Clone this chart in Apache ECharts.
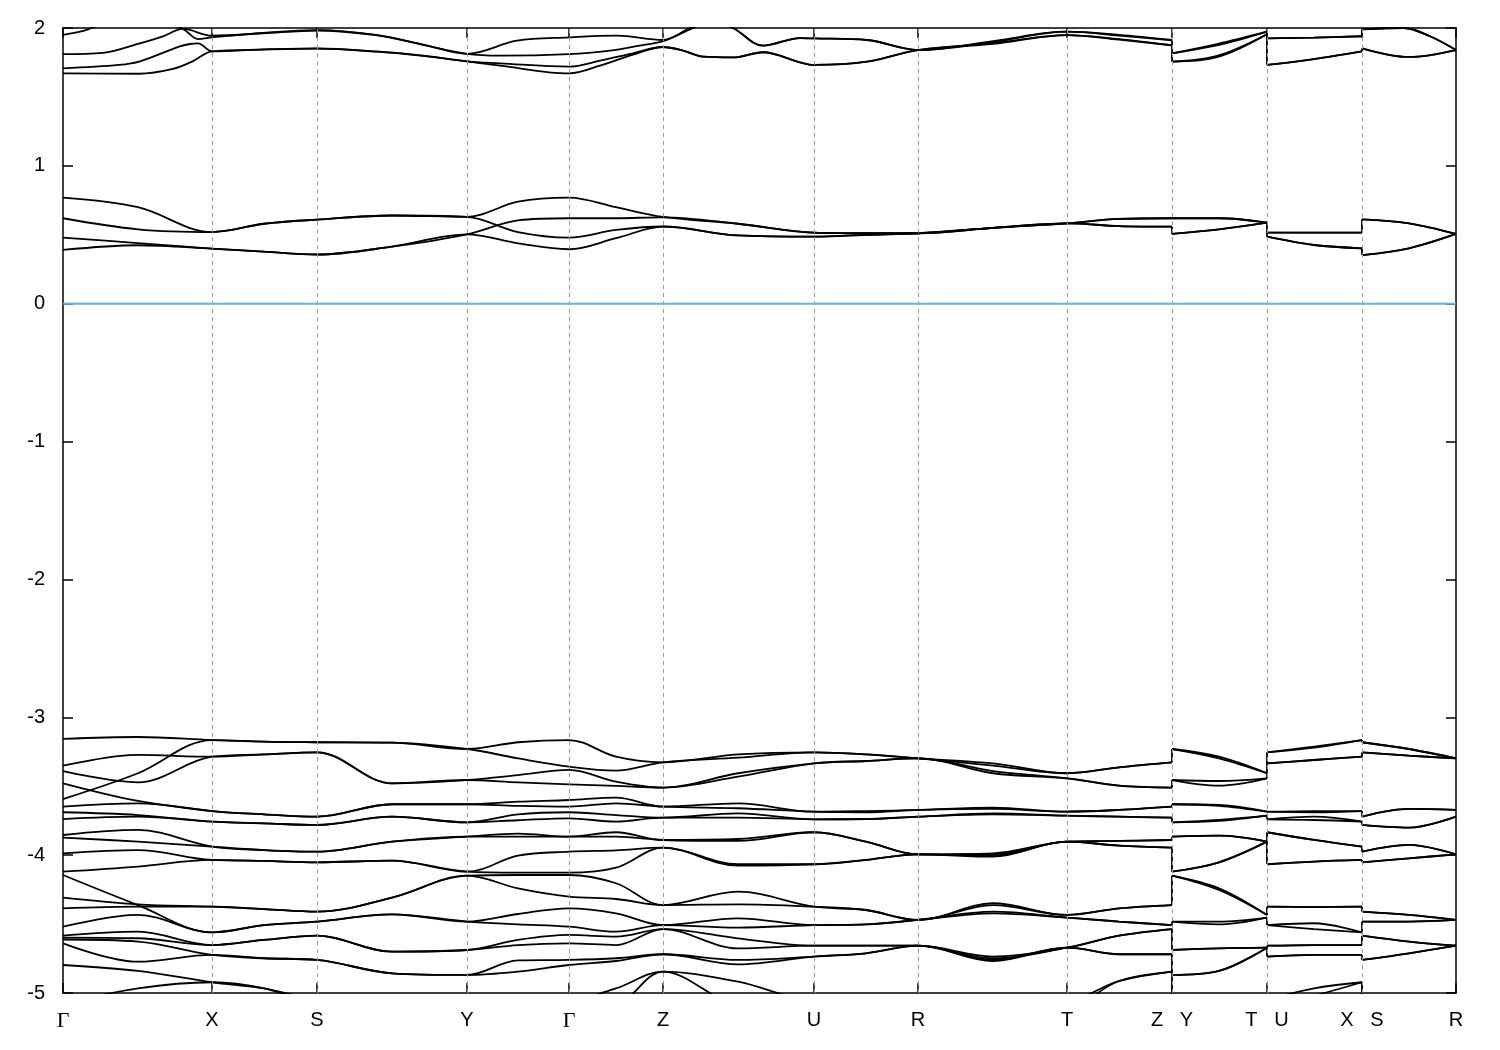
<!DOCTYPE html>
<html><head><meta charset="utf-8">
<script src="https://cdn.jsdelivr.net/npm/echarts@6/dist/echarts.min.js"></script>
<style>html,body{margin:0;padding:0;background:#fff}#chart{width:1500px;height:1050px}</style>
</head><body><div id="chart"></div>
<script>
// k-path positions of the high-symmetry points (arb. path units)
const kTicks = [0, 149, 254, 404, 506, 600, 751, 855, 1004, 1109, 1204, 1299, 1393];
const kLabels = ['Γ','X','S','Y','Γ','Z','U','R','T','Z   Y','T   U','X   S','R'];
// sampling grid along the path (repeated k = discontinuity)
const kx = [0,75,149,201,254,329,404,455,506,553,600,675,751,803,855,930,1004,1056,1109,1109,1156,1204,1204,1251,1299,1299,1346,1393];

// conduction bands near 0.5 eV (on kx grid)
const c4 = [0.77,0.70,0.52,0.58,0.61,0.64,0.63,0.74,0.77,0.70,0.63,0.58,0.515,0.511,0.511,0.55,0.583,0.615,0.62,0.62,0.62,0.588,0.515,0.515,0.515,0.612,0.583,0.506];
const c3 = [0.62,0.54,0.52,0.58,0.61,0.64,0.63,0.52,0.48,0.535,0.56,0.495,0.486,0.50,0.511,0.55,0.583,0.563,0.559,0.506,0.539,0.588,0.486,0.426,0.402,0.353,0.402,0.506];
const c2 = [0.48,0.44,0.40,0.378,0.357,0.414,0.503,0.605,0.62,0.62,0.627,0.58,0.515,0.511,0.511,0.55,0.583,0.615,0.62,0.62,0.62,0.588,0.515,0.515,0.515,0.612,0.583,0.506];
const c1 = [0.39,0.424,0.40,0.378,0.357,0.414,0.503,0.438,0.395,0.475,0.559,0.495,0.486,0.50,0.511,0.55,0.583,0.563,0.559,0.506,0.539,0.588,0.486,0.426,0.402,0.353,0.402,0.506];

// conduction bands near 1.8 eV ([k, E] pairs)
const uA = [[0,1.95],[17,1.973],[29,2.0],[60,2.07],[95,2.05],[120,1.993],[135,1.92],[149,1.932],[200,1.965],[254,1.985],[313,1.95],[360,1.88],[404,1.813],[454,1.908],[506,1.932],[554,1.944],[600,1.913],[627,2.0],[648,2.05],[670,2.0],[700,1.872],[737,1.927],[751,1.925],[804,1.913],[855,1.84],[930,1.905],[1004,1.973],[1056,1.95],[1109,1.913],[1109,1.816],[1155,1.885],[1204,1.973],[1204,1.925],[1251,1.93],[1299,1.94],[1299,1.99],[1341,2.0],[1367,1.94],[1393,1.84]];
const uB = [[0,1.81],[40,1.82],[77,1.889],[100,1.94],[120,1.993],[149,1.944],[200,1.962],[254,1.982],[313,1.948],[360,1.878],[404,1.813],[437,1.80],[506,1.811],[547,1.836],[575,1.87],[600,1.905],[627,1.99],[648,2.05],[670,2.0],[700,1.872],[737,1.927],[751,1.925],[804,1.913],[855,1.84],[930,1.898],[1004,1.973],[1056,1.945],[1109,1.91],[1109,1.816],[1155,1.875],[1204,1.973],[1204,1.925],[1251,1.93],[1299,1.94],[1299,1.99],[1341,2.0],[1367,1.94],[1393,1.84]];
const uC = [[0,1.707],[56,1.732],[77,1.758],[116,1.865],[127,1.884],[135,1.889],[149,1.831],[200,1.845],[254,1.852],[313,1.83],[360,1.80],[404,1.758],[437,1.744],[506,1.72],[537,1.763],[570,1.816],[600,1.862],[620,1.836],[640,1.792],[670,1.787],[700,1.824],[737,1.751],[751,1.732],[804,1.756],[855,1.84],[930,1.89],[1004,1.949],[1056,1.92],[1109,1.875],[1109,1.756],[1155,1.80],[1204,1.955],[1204,1.732],[1251,1.775],[1299,1.831],[1299,1.853],[1346,1.79],[1393,1.84]];
const uD = [[0,1.671],[76,1.668],[110,1.703],[130,1.76],[149,1.831],[200,1.843],[254,1.85],[313,1.828],[360,1.798],[404,1.758],[437,1.727],[506,1.671],[537,1.727],[570,1.807],[600,1.862],[620,1.836],[640,1.792],[670,1.787],[700,1.824],[737,1.751],[751,1.732],[804,1.756],[855,1.84],[930,1.885],[1004,1.949],[1056,1.915],[1109,1.875],[1109,1.756],[1155,1.79],[1204,1.955],[1204,1.732],[1251,1.775],[1299,1.831],[1299,1.853],[1346,1.79],[1393,1.84]];

// valence bands (on kx grid)
const v00 = [-3.157,-3.143,-3.165,-3.177,-3.181,-3.184,-3.230,-3.181,-3.165,-3.286,-3.327,-3.269,-3.254,-3.269,-3.298,-3.334,-3.406,-3.363,-3.327,-3.230,-3.286,-3.406,-3.254,-3.213,-3.165,-3.181,-3.230,-3.298];
const v01 = [-3.593,-3.406,-3.165,-3.177,-3.181,-3.184,-3.230,-3.298,-3.358,-3.387,-3.327,-3.293,-3.254,-3.269,-3.298,-3.351,-3.406,-3.363,-3.327,-3.230,-3.298,-3.406,-3.254,-3.220,-3.165,-3.181,-3.230,-3.298];
const v02 = [-3.351,-3.273,-3.286,-3.269,-3.254,-3.479,-3.455,-3.419,-3.382,-3.467,-3.510,-3.406,-3.334,-3.317,-3.298,-3.390,-3.443,-3.496,-3.510,-3.455,-3.462,-3.443,-3.334,-3.310,-3.286,-3.254,-3.278,-3.298];
const v03 = [-3.390,-3.472,-3.286,-3.269,-3.254,-3.479,-3.455,-3.472,-3.486,-3.498,-3.510,-3.431,-3.334,-3.317,-3.298,-3.406,-3.443,-3.496,-3.510,-3.455,-3.496,-3.443,-3.334,-3.310,-3.286,-3.254,-3.278,-3.298];
const v04 = [-3.479,-3.607,-3.680,-3.704,-3.721,-3.631,-3.631,-3.612,-3.600,-3.583,-3.648,-3.624,-3.685,-3.680,-3.672,-3.655,-3.685,-3.672,-3.648,-3.631,-3.636,-3.685,-3.685,-3.680,-3.680,-3.721,-3.665,-3.672];
const v05 = [-3.648,-3.624,-3.680,-3.704,-3.721,-3.631,-3.631,-3.643,-3.648,-3.624,-3.648,-3.660,-3.685,-3.689,-3.672,-3.665,-3.685,-3.672,-3.648,-3.631,-3.643,-3.685,-3.685,-3.689,-3.680,-3.721,-3.665,-3.672];
const v06 = [-3.689,-3.709,-3.757,-3.769,-3.781,-3.721,-3.762,-3.704,-3.689,-3.709,-3.728,-3.697,-3.740,-3.738,-3.721,-3.697,-3.714,-3.721,-3.728,-3.762,-3.745,-3.714,-3.740,-3.721,-3.757,-3.781,-3.801,-3.721];
const v07 = [-3.738,-3.721,-3.757,-3.769,-3.781,-3.721,-3.762,-3.747,-3.733,-3.757,-3.728,-3.728,-3.740,-3.738,-3.721,-3.704,-3.714,-3.721,-3.728,-3.762,-3.752,-3.714,-3.740,-3.745,-3.757,-3.781,-3.801,-3.721];
const v08 = [-3.854,-3.817,-3.938,-3.963,-3.975,-3.902,-3.866,-3.844,-3.866,-3.834,-3.890,-3.883,-3.834,-3.902,-3.994,-3.987,-3.902,-3.897,-3.890,-3.866,-3.859,-3.902,-3.834,-3.890,-3.938,-3.975,-3.926,-3.994];
const v09 = [-3.873,-3.902,-3.938,-3.963,-3.975,-3.902,-3.866,-3.866,-3.866,-3.866,-3.890,-3.897,-3.834,-3.902,-3.994,-3.994,-3.902,-3.897,-3.890,-3.866,-3.859,-3.902,-3.834,-3.890,-3.938,-3.975,-3.926,-3.994];
const v10 = [-3.987,-3.963,-4.035,-4.042,-4.052,-4.040,-4.120,-4.004,-3.975,-3.965,-3.946,-4.066,-4.066,-4.035,-3.994,-4.004,-3.902,-3.931,-3.946,-4.120,-4.052,-3.902,-4.066,-4.047,-4.035,-4.052,-4.023,-3.994];
const v11 = [-4.120,-4.083,-4.035,-4.042,-4.052,-4.040,-4.120,-4.127,-4.127,-4.091,-3.946,-4.076,-4.066,-4.035,-3.994,-4.011,-3.902,-3.931,-3.946,-4.120,-4.052,-3.902,-4.066,-4.047,-4.035,-4.052,-4.023,-3.994];
const v12 = [-4.308,-4.357,-4.374,-4.391,-4.410,-4.308,-4.149,-4.144,-4.144,-4.204,-4.362,-4.265,-4.374,-4.398,-4.470,-4.349,-4.434,-4.386,-4.362,-4.149,-4.241,-4.434,-4.374,-4.376,-4.374,-4.410,-4.434,-4.470];
const v13 = [-4.386,-4.374,-4.374,-4.391,-4.410,-4.308,-4.149,-4.241,-4.301,-4.318,-4.362,-4.357,-4.374,-4.398,-4.470,-4.362,-4.434,-4.386,-4.362,-4.149,-4.253,-4.434,-4.374,-4.376,-4.374,-4.410,-4.434,-4.470];
const v14 = [-4.144,-4.362,-4.560,-4.507,-4.482,-4.429,-4.482,-4.427,-4.386,-4.422,-4.507,-4.458,-4.507,-4.502,-4.470,-4.410,-4.453,-4.482,-4.507,-4.482,-4.482,-4.453,-4.507,-4.494,-4.560,-4.482,-4.482,-4.470];
const v15 = [-4.519,-4.434,-4.560,-4.507,-4.482,-4.429,-4.482,-4.502,-4.519,-4.555,-4.507,-4.526,-4.507,-4.502,-4.470,-4.422,-4.453,-4.482,-4.507,-4.482,-4.502,-4.453,-4.507,-4.536,-4.560,-4.482,-4.482,-4.470];
const v16 = [-4.584,-4.555,-4.652,-4.615,-4.584,-4.700,-4.688,-4.615,-4.579,-4.591,-4.536,-4.603,-4.657,-4.657,-4.657,-4.736,-4.671,-4.584,-4.536,-4.688,-4.676,-4.671,-4.657,-4.652,-4.652,-4.584,-4.627,-4.657];
const v17 = [-4.598,-4.603,-4.652,-4.615,-4.584,-4.700,-4.688,-4.652,-4.640,-4.652,-4.536,-4.676,-4.657,-4.657,-4.657,-4.748,-4.671,-4.584,-4.536,-4.688,-4.676,-4.671,-4.657,-4.652,-4.652,-4.584,-4.627,-4.657];
const v18 = [-4.612,-4.627,-4.724,-4.748,-4.760,-4.857,-4.869,-4.763,-4.760,-4.748,-4.719,-4.760,-4.736,-4.712,-4.657,-4.760,-4.671,-4.719,-4.719,-4.869,-4.840,-4.671,-4.736,-4.724,-4.724,-4.760,-4.712,-4.657];
const v19 = [-4.640,-4.773,-4.724,-4.748,-4.760,-4.857,-4.869,-4.845,-4.797,-4.768,-4.719,-4.792,-4.736,-4.712,-4.657,-4.768,-4.671,-4.719,-4.719,-4.869,-4.840,-4.671,-4.736,-4.724,-4.724,-4.760,-4.712,-4.657];
const v20 = [-4.797,-4.840,-4.922,-4.966,-5.05,-5.10,-5.10,-5.05,-5.05,-4.966,-4.845,-4.918,-5.05,-5.05,-5.05,-5.05,-5.05,-4.913,-4.845,-5.10,-5.05,-5.05,-5.05,-4.966,-4.922,-5.05,-5.05,-5.05];
const v21 = [-5.08,-4.966,-4.922,-4.966,-5.08,-5.15,-5.15,-5.12,-5.10,-5.08,-4.845,-5.08,-5.10,-5.10,-5.10,-5.10,-5.10,-4.913,-4.845,-5.15,-5.10,-5.10,-5.10,-5.02,-4.922,-5.08,-5.10,-5.10];

const gridBands = [c1,c2,c3,c4,v00,v01,v02,v03,v04,v05,v06,v07,v08,v09,v10,v11,v12,v13,v14,v15,v16,v17,v18,v19,v20,v21];
const pairBands = [uA,uB,uC,uD];

const jumps = [];
function toSeriesData(points) {
  const out = [];
  for (let i = 0; i < points.length; i++) {
    const p = points[i];
    if (i > 0 && points[i-1][0] === p[0]) {
      out.push([p[0], null]);
      jumps.push([p[0], points[i-1][1]], [p[0], p[1]], [p[0], null]);
    }
    out.push([p[0], p[1]]);
  }
  return out;
}
const bandStyle = {color:'#000', width:1.8};
const series = [];
// zero line + high-symmetry grid lines
series.push({
  type:'line', data:[[kTicks[0],0],[kTicks[kTicks.length-1],0]], symbol:'none', silent:true,
  lineStyle:{color:'#56b4e9', width:2}, z:1,
  markLine:{silent:true, symbol:['none','none'], label:{show:false},
    lineStyle:{color:'#9a9a9a', type:[4,4], width:1},
    data:kTicks.slice(1,-1).map(v=>({xAxis:v}))}
});
gridBands.forEach(b => {
  series.push({type:'line', data:toSeriesData(kx.map((k,i)=>[k,b[i]])), smooth:0.35, symbol:'none', silent:true, clip:true, lineStyle:bandStyle, z:3});
});
pairBands.forEach(b => {
  series.push({type:'line', data:toSeriesData(b), smooth:0.35, symbol:'none', silent:true, clip:true, lineStyle:bandStyle, z:3});
});
series.push({type:'line', data:jumps, smooth:false, symbol:'none', silent:true, clip:true, lineStyle:bandStyle, z:3});

const axisLineStyle = {color:'#000', width:1.5};
const labelFont = {fontFamily:'Liberation Sans', fontSize:20, color:'#000'};
const option = {
  animation:false,
  backgroundColor:'#fff',
  grid:{left:63, right:44, top:28, bottom:57, containLabel:false},
  xAxis:[
    {type:'value', min:kTicks[0], max:kTicks[kTicks.length-1], position:'bottom',
     axisLine:{show:true, onZero:false, lineStyle:axisLineStyle},
     axisTick:{show:true, inside:true, length:10, customValues:kTicks, lineStyle:axisLineStyle},
     axisLabel:Object.assign({customValues:kTicks, margin:17,
       formatter:function(v){const i=kTicks.indexOf(v); const l=kLabels[i]; return l==='Γ'?'{g|Γ}':l;},
       rich:{g:{fontFamily:'Liberation Serif', fontSize:22, color:'#000'}}}, labelFont),
     splitLine:{show:false}},
    {type:'value', min:kTicks[0], max:kTicks[kTicks.length-1], position:'top',
     axisLine:{show:true, onZero:false, lineStyle:axisLineStyle},
     axisTick:{show:true, inside:true, length:10, customValues:kTicks, lineStyle:axisLineStyle},
     axisLabel:{show:false}, splitLine:{show:false}}
  ],
  yAxis:[
    {type:'value', min:-5, max:2, interval:1, position:'left',
     axisLine:{show:true, onZero:false, lineStyle:axisLineStyle},
     axisTick:{show:true, inside:true, length:10, lineStyle:axisLineStyle},
     axisLabel:Object.assign({margin:18}, labelFont), splitLine:{show:false}},
    {type:'value', min:-5, max:2, interval:1, position:'right',
     axisLine:{show:true, onZero:false, lineStyle:axisLineStyle},
     axisTick:{show:true, inside:true, length:10, lineStyle:axisLineStyle},
     axisLabel:{show:false}, splitLine:{show:false}}
  ],
  series: series
};
const chart = echarts.init(document.getElementById('chart'), null, {renderer:'canvas'});
chart.setOption(option);
</script>
</body></html>
